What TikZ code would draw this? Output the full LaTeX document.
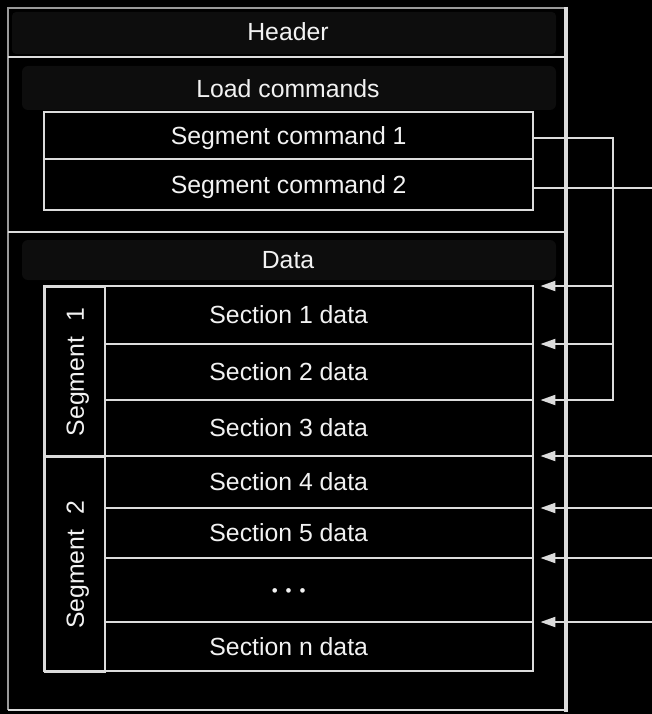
\documentclass[tikz,border=0pt]{standalone}
\usepackage{fontspec}
\setmainfont{Liberation Sans}
\usetikzlibrary{arrows.meta,calc}
\definecolor{ln}{HTML}{DCDCDC}
\definecolor{lndim}{HTML}{9A9A9A}
\definecolor{tx}{HTML}{F2F2F2}
\definecolor{band}{HTML}{0D0D0D}
\begin{document}
\begin{tikzpicture}[x=1pt,y=-1pt,
  lbl/.style={text=tx,font=\fontsize{24.8}{29}\selectfont,inner sep=0pt,text height=17.5pt,text depth=0pt},
  rowbox/.style={lbl,draw=none,minimum width=489pt,anchor=north west},
  labcol/.style={draw=ln,line width=2pt,minimum width=60pt,anchor=north west,inner sep=0pt},
  wire/.style={draw=ln,line width=2pt},
  ptr/.style={draw=ln,line width=2pt,-{Triangle[length=15pt,width=10pt]}},
]
\fill[black] (0,0) rectangle (652,714);
\useasboundingbox (0,0) rectangle (652,714);
% faint bands
\fill[band,rounded corners=4pt] (12,12) rectangle (556,54);
\fill[band,rounded corners=6pt] (22,66) rectangle (556,110);
\fill[band,rounded corners=6pt] (22,240) rectangle (556,280);
% outer frame
\draw[lndim,line width=2pt] (566,8) -- (8,8) -- (8,710);
\draw[wire] (8,710) -- (566,710);
\draw[ln,line width=3.5pt] (566,7) -- (566,712);
\draw[wire] (8,57) -- (566,57);
\draw[wire] (8,232) -- (566,232);
% titles
\node[lbl] (hdr) at (288,32) {Header};
\node[lbl] (lc) at (288,89) {Load commands};
\node[lbl] (dat) at (288,260) {Data};
% segment commands
\node[rowbox,minimum height=47pt] (sc1) at (44,112) {Segment command 1};
\node[rowbox,minimum height=51pt] (sc2) at (44,159) {Segment command 2};
\draw[wire] (sc1.north west) rectangle (sc2.south east);
\draw[wire] (sc1.south west) -- (sc1.south east);
% sections
\node[rowbox,minimum height=58pt] (s1) at (44,286) {Section 1 data};
\node[rowbox,minimum height=56pt] (s2) at (44,344) {Section 2 data};
\node[rowbox,minimum height=56pt] (s3) at (44,400) {Section 3 data};
\node[rowbox,minimum height=52pt] (s4) at (44,456) {Section 4 data};
\node[rowbox,minimum height=50pt] (s5) at (44,508) {Section 5 data};
\node[rowbox,minimum height=64pt,font=\fontsize{17}{17}\selectfont,text height=12pt] (sd) at (44,558) {•\hspace{8pt}•\hspace{8pt}•};
\node[rowbox,minimum height=49pt] (sn) at (44,622) {Section n data};
\draw[wire] (s1.north west) rectangle (sn.south east);
\node[labcol,minimum height=170pt] (g1) at (44,286) {};
\node[labcol,minimum height=215pt] (g2) at (44,456) {};
\node[lbl,rotate=90] at (g1.center) {Segment\hspace{0.35em} 1};
\node[lbl,rotate=90] at (g2.center) {Segment\hspace{0.35em} 2};
\foreach \r in {s1,s2,s4,s5,sd}{
  \draw[wire] (\r.south west -| g1.east) -- (\r.south east);
}
\draw[wire] (s3.south west) -- (s3.south east);
% connectors
\coordinate (bus) at (613,0);
\coordinate (edge) at (652,0);
\coordinate (c1) at ([yshift=-2pt]sc1.east);
\coordinate (c2) at ([yshift=-3pt]sc2.east);
\draw[ptr] (c1) -| (bus |- s3.north) -- ([xshift=7pt]s3.north east);
\draw[ptr] (bus |- s1.north) -- ([xshift=7pt]s1.north east);
\draw[ptr] (bus |- s2.north) -- ([xshift=7pt]s2.north east);
\draw[wire] (c2) -- (edge |- c2);
\foreach \r in {s4,s5,sd,sn}{
  \draw[ptr] (edge |- \r.north) -- ([xshift=7pt]\r.north east);
}
\end{tikzpicture}
\end{document}
